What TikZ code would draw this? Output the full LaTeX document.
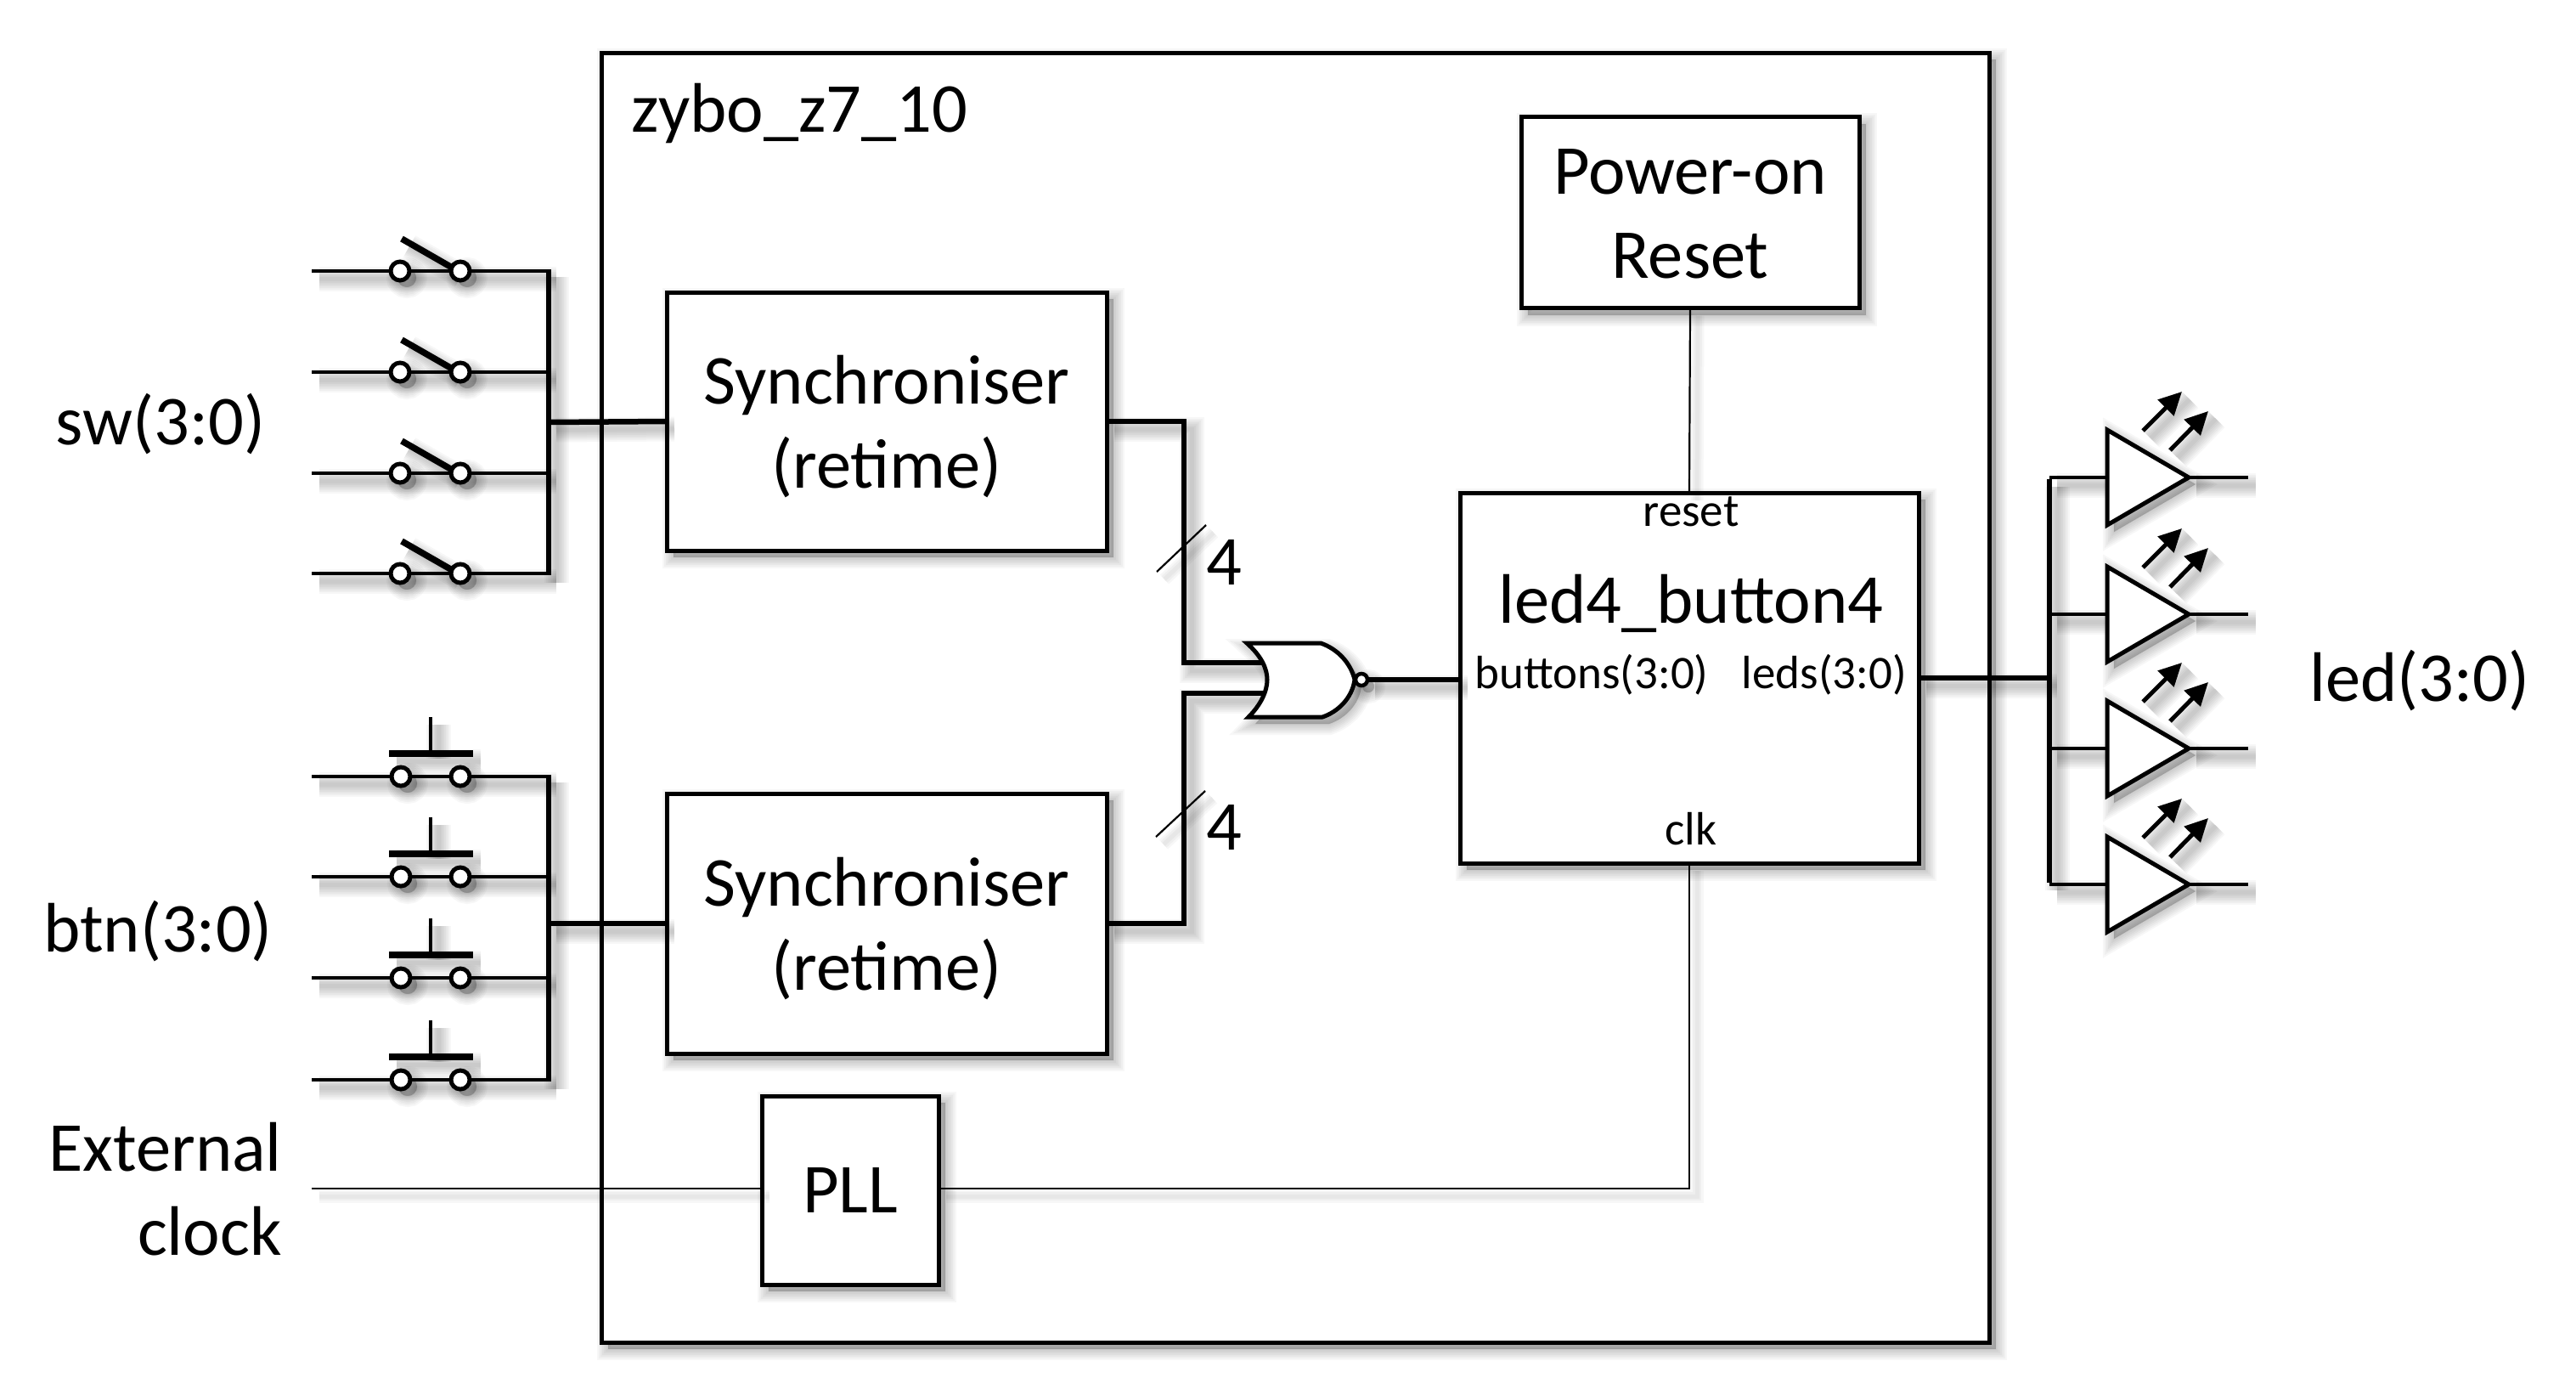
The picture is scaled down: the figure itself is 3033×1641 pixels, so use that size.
\documentclass[tikz,border=0pt]{standalone}
\usepackage{fontspec}
\setmainfont{Carlito}
\usetikzlibrary{arrows.meta}
\newcommand{\lowerline}{\rule{0pt}{70pt}}
\newcommand{\lowerpor}{\rule{0pt}{57pt}}
\tikzset{
  wsh/.style={preaction={arrows=-,draw=black,draw opacity=.03,line width=#1pt,transform canvas={shift={(9pt,-9pt)}}}},
  lshadow/.style={wsh=5,wsh=9,wsh=13,wsh=17,wsh=21,wsh=25,wsh=29},
  fsh/.style={preaction={fill=black,draw=black,opacity=.03,line width=#1pt,transform canvas={shift={(8pt,-8pt)}}}},
  fshadow/.style={fsh=2,fsh=6,fsh=10,fsh=14,fsh=18,fsh=22,fsh=26},
  wire/.style={draw=black,line width=4.7pt,lshadow},
  bus/.style={draw=black,line width=6.5pt,lshadow},
  thinw/.style={draw=black,line width=2.2pt,wsh=5,wsh=10,wsh=15},
  blockbox/.style={draw=black,fill=white,line width=5pt,inner sep=0pt,outer sep=0pt,align=center,font=\fontsize{82.5}{99}\selectfont,fshadow},
  term/.style={circle,draw=black,fill=white,line width=5pt,inner sep=0pt,outer sep=0pt,minimum size=22pt,fshadow},
  big/.style={inner sep=0pt,font=\fontsize{82.5}{99}\selectfont},
  small/.style={inner sep=0pt,font=\fontsize{55}{66}\selectfont},
  ray/.style={draw=black,line width=5pt,lshadow,-{Triangle[length=27pt,width=26pt]}},
}
\begin{document}
\begin{tikzpicture}[x=1pt,y=-1pt]
\useasboundingbox (0,0) rectangle (3033,1641);
\fill[white] (0,0) rectangle (3033,1641);

% outer block
\node[blockbox,minimum width=1634pt,minimum height=1518pt] (zybo) at (1525,821) {};
\node[big,anchor=west] (zname) at (743,134) {zybo\_z7\_10};

% slide switches
\foreach \i/\y in {1/319,2/438,3/557,4/675}{
  \coordinate (swin\i) at (367,\y);
  \coordinate (swbus\i) at (646,\y);
  \coordinate (lvA\i) at (473,\y-38);
  \coordinate (lvB\i) at (534,\y-3);
  \draw[wire] (swin\i) -- (swbus\i);
  \draw[draw=black,line width=7.5pt,lshadow] (lvA\i) -- (lvB\i);
  \node[term] (swa\i) at (471,\y) {};
  \node[term] (swb\i) at (542,\y) {};
}
\draw[bus] ([yshift=2pt]swbus1) -- ([yshift=-2pt]swbus4);
\coordinate (swtap) at (646,497);

% push buttons
\foreach \i/\y in {1/914,2/1032,3/1151,4/1271}{
  \coordinate (btin\i) at (367,\y);
  \coordinate (btbus\i) at (646,\y);
  \coordinate (stA\i) at (507,\y-70);
  \coordinate (stB\i) at (507,\y-30);
  \coordinate (barA\i) at (458,\y-27);
  \coordinate (barB\i) at (557,\y-27);
  \draw[wire] (btin\i) -- (btbus\i);
  \draw[draw=black,line width=4.7pt,lshadow] (stA\i) -- (stB\i);
  \draw[draw=black,line width=8.5pt,lshadow] (barA\i) -- (barB\i);
  \node[term] (bta\i) at (472,\y) {};
  \node[term] (btb\i) at (542,\y) {};
}
\draw[bus] ([yshift=2pt]btbus1) -- ([yshift=-2pt]btbus4);
\coordinate (bttap) at (646,1087);

% blocks
\node[blockbox,minimum width=518pt,minimum height=304pt] (syncA) at (1044,496) {\lowerline Synchroniser\\(retime)};
\node[blockbox,minimum width=518pt,minimum height=306pt] (syncB) at (1044,1087) {\lowerline Synchroniser\\(retime)};
\node[blockbox,minimum width=208pt,minimum height=222pt] (pll) at (1001,1401) {PLL};
\node[blockbox,minimum width=398pt,minimum height=225pt] (por) at (1990,250) {\lowerpor Power-on\\Reset};
\node[blockbox,minimum width=540pt,minimum height=436pt] (led) at (1989,798) {};

\draw[bus] (swtap) -- (syncA.west);
\draw[bus] (bttap) -- (syncB.west);

% NOR gate
\coordinate (busA) at (1394,780);
\coordinate (busB) at (1394,816);
\coordinate (gateA) at (1490,780);
\coordinate (gateB) at (1490,816);
\draw[bus] (syncA.east) -| (busA) -- (gateA);
\draw[bus] (syncB.east) -| (busB) -- (gateB);
\draw[draw=black,fill=white,line width=5pt,miter limit=4,fshadow]
  (1468,757) .. controls (1485,772) and (1492,787) .. (1492,800)
  .. controls (1492,813) and (1485,829) .. (1470,844)
  -- (1557,844) .. controls (1575,838) and (1592,822) .. (1595,800)
  .. controls (1590,780) and (1575,764) .. (1555,757) -- cycle;
\node[circle,draw=black,fill=white,line width=4.5pt,inner sep=0pt,outer sep=0pt,minimum size=14pt,fshadow] (bub) at (1603,800) {};
\draw[draw=black,line width=6.5pt,lshadow] (bub.east) -- (led.west |- bub.east);

% bus slashes
\coordinate (slA1) at (1362,673);
\coordinate (slA2) at (1420,618);
\coordinate (slB1) at (1361,985);
\coordinate (slB2) at (1419,931);
\draw[thinw] (slA1) -- (slA2);
\draw[thinw] (slB1) -- (slB2);
\node[big] (nA) at (1441,662) {4};
\node[big] (nB) at (1441,974) {4};

% thin connections
\coordinate (clkin) at (367,1399);
\draw[thinw] (clkin) -- (pll.west |- clkin);
\draw[thinw] (pll.east |- clkin) -| (led.south);
\draw[thinw] (por.south) -- (led.north);

% block labels
\node[small] (lreset) at (1991,602) {reset};
\node[big] (lname) at (1991,710) {led4\_button4};
\node[small] (lbtn) at (1874,794) {buttons(3:0)};
\node[small] (lled) at (2148,794) {leds(3:0)};
\node[small] (lclk) at (1991,976) {clk};

% LED outputs
\coordinate (ledtap) at (2413,798);
\coordinate (ledtop) at (2413,562);
\coordinate (ledbot) at (2413,1041);
\draw[draw=black,line width=6.5pt,lshadow] (led.east |- ledtap) -- (ledtap);
\foreach \i/\y in {1/562,2/723,3/881,4/1041}{
  \coordinate (lin\i) at (2413,\y);
  \coordinate (lout\i) at (2647,\y);
  \coordinate (lbase\i) at (2481,\y);
  \coordinate (ltip\i) at (2577,\y);
  \draw[wire] (lin\i) -- (lbase\i);
  \draw[wire] (ltip\i) -- (lout\i);
  \draw[draw=black,fill=white,line width=5pt,fshadow] (2481,\y-56) -- (ltip\i) -- (2481,\y+56) -- cycle;
  \coordinate (rAa\i) at (2523,\y-55);
  \coordinate (rAb\i) at (2569,\y-101);
  \coordinate (rBa\i) at (2555,\y-32);
  \coordinate (rBb\i) at (2600,\y-78);
  \draw[ray] (rAa\i) -- (rAb\i);
  \draw[ray] (rBa\i) -- (rBb\i);
}
\draw[bus] ([yshift=-2pt]ledtop) -- ([yshift=2pt]ledbot);

% pin labels
\node[big] (lsw) at (189,499) {sw(3:0)};
\node[big] (lbt) at (186,1096) {btn(3:0)};
\node[big,anchor=east,align=right] (lext) at (332,1400) {External\\clock};
\node[big] (lout) at (2849,801) {led(3:0)};
\end{tikzpicture}
\end{document}
